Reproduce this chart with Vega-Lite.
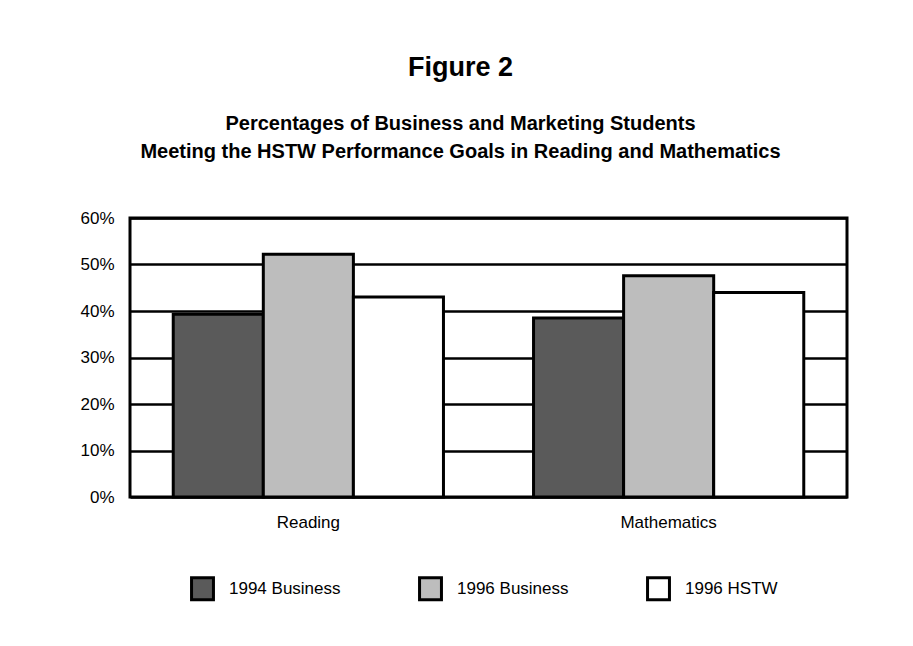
{
  "$schema": "https://vega.github.io/schema/vega-lite/v6.json",
  "width": 717,
  "height": 279,
  "autosize": {"type": "none"},
  "padding": {"left": 130, "top": 218, "right": 66, "bottom": 149},
  "background": "white",
  "title": {
    "text": "Figure 2",
    "subtitle": ["Percentages of Business and Marketing Students", "Meeting the HSTW Performance Goals in Reading and Mathematics"],
    "anchor": "middle",
    "dx": -28,
    "fontSize": 27,
    "fontWeight": "bold",
    "color": "black",
    "subtitleFontSize": 20,
    "subtitleFontWeight": "bold",
    "subtitleColor": "black",
    "subtitleLineHeight": 28,
    "subtitlePadding": 32,
    "offset": 46
  },
  "data": {
    "values": [
      {"subject": "Reading", "group": "1994 Business", "pct": 39.3},
      {"subject": "Reading", "group": "1996 Business", "pct": 52.2},
      {"subject": "Reading", "group": "1996 HSTW", "pct": 43},
      {"subject": "Mathematics", "group": "1994 Business", "pct": 38.5},
      {"subject": "Mathematics", "group": "1996 Business", "pct": 47.6},
      {"subject": "Mathematics", "group": "1996 HSTW", "pct": 44}
    ]
  },
  "mark": {"type": "bar", "stroke": "black", "strokeWidth": 3},
  "encoding": {
    "x": {
      "field": "subject",
      "type": "nominal",
      "sort": ["Reading", "Mathematics"],
      "scale": {"paddingInner": 0.25, "paddingOuter": 0.12},
      "axis": {"title": null, "labelAngle": 0, "ticks": false, "domain": false, "labelPadding": 17, "labelFontSize": 17, "labelColor": "black", "grid": false}
    },
    "xOffset": {
      "field": "group",
      "type": "nominal",
      "sort": ["1994 Business", "1996 Business", "1996 HSTW"],
      "scale": {"paddingInner": 0, "paddingOuter": 0}
    },
    "y": {
      "field": "pct",
      "type": "quantitative",
      "scale": {"domain": [0, 60]},
      "axis": {
        "values": [0, 10, 20, 30, 40, 50, 60],
        "labelExpr": "datum.value + '%'",
        "title": null,
        "ticks": false,
        "domain": false,
        "grid": true,
        "gridColor": "black",
        "gridWidth": 2.5,
        "gridOpacity": 1,
        "labelPadding": 16,
        "labelFontSize": 17,
        "labelColor": "black"
      }
    },
    "fill": {
      "field": "group",
      "type": "nominal",
      "scale": {"domain": ["1994 Business", "1996 Business", "1996 HSTW"], "range": ["#5a5a5a", "#bdbdbd", "#ffffff"]},
      "legend": {
        "title": null,
        "orient": "none",
        "direction": "horizontal",
        "legendX": 60,
        "legendY": 358,
        "symbolType": "square",
        "symbolSize": 480,
        "symbolStrokeColor": "black",
        "symbolStrokeWidth": 3,
        "symbolOpacity": 1,
        "labelFontSize": 17,
        "labelColor": "black",
        "labelOffset": 14,
        "columnPadding": 72,
        "labelLimit": 300
      }
    }
  },
  "config": {
    "font": "Liberation Sans, Arial, sans-serif",
    "view": {"stroke": "black", "strokeWidth": 3}
  }
}
